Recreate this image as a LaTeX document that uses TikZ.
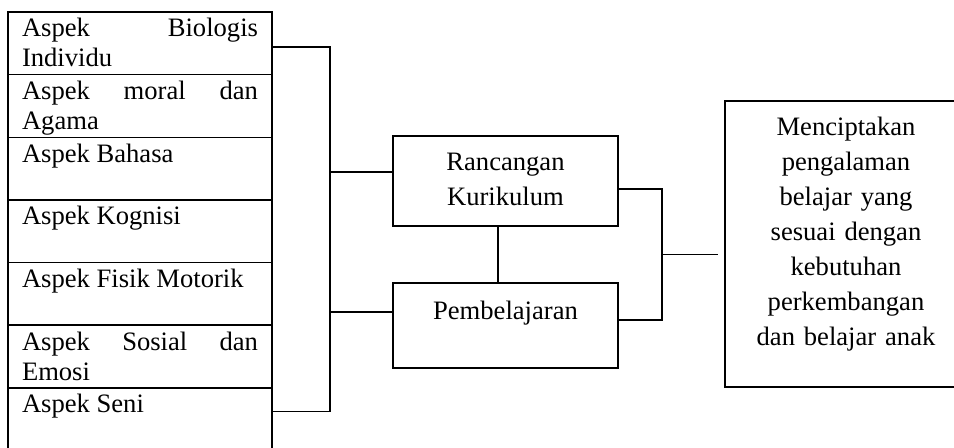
\documentclass[tikz,border=0pt]{standalone}
\usepackage{fontspec}
\setmainfont{Liberation Serif}
\usetikzlibrary{positioning}
\hyphenpenalty=10000
\exhyphenpenalty=10000
\newcommand{\isiaspek}[1]{\parbox[t]{118pt}{\baselineskip=15pt #1}}

\begin{document}
\begin{tikzpicture}[x=0.5pt,y=-0.5pt,line width=0.8pt,
    aspek/.style={draw,outer sep=0pt,inner xsep=7pt,inner ysep=0pt,
      text height=12.5pt,text depth=18.83pt,font=\fontsize{13.3}{15}\selectfont},
    kotak/.style={draw,outer sep=0pt,inner xsep=4pt,inner ysep=0pt,align=center,
      text height=17.5pt,font=\fontsize{13.3}{17.5}\selectfont}]
    \clip (0,0) rectangle (954,448);

    %aspek column
    \node[aspek,anchor=north west] (a_1) at (8,12) {\isiaspek{Aspek Biologis Individu}};
    \node[aspek] (a_2) [below =0pt of a_1] {\isiaspek{Aspek moral dan Agama}};
    \node[aspek] (a_3) [below =0pt of a_2] {\isiaspek{Aspek Bahasa}};
    \node[aspek] (a_4) [below =0pt of a_3] {\isiaspek{Aspek Kognisi}};
    \node[aspek] (a_5) [below =0pt of a_4] {\isiaspek{Aspek Fisik Motorik}};
    \node[aspek] (a_6) [below =0pt of a_5] {\isiaspek{Aspek Sosial dan Emosi}};
    \node[aspek] (a_7) [below =0pt of a_6] {\isiaspek{Aspek Seni}};

    %middle boxes
    \node[kotak,anchor=north west,text width=104.5pt,text depth=27.5pt] (rk) at (393,136) {Rancangan\\Kurikulum};
    \node[kotak,text width=104.5pt,text height=18.5pt,text depth=24pt] (pb) [below =28.5pt of rk] {Pembelajaran};

    %tujuan
    \node[kotak,anchor=north west,text width=113pt,text depth=125.5pt] (tj) at (725,101)
      {Menciptakan\\pengalaman\\belajar yang\\sesuai dengan\\kebutuhan\\perkembangan\\dan belajar anak};

    %left bus
    \draw ([yshift=-1.85pt]a_1.east) -- ++(29pt,0) coordinate (busL) |- ([yshift=3.85pt]a_7.east);
    \draw ([yshift=4.5pt]rk.west) -- ++(-31.5pt,0);
    \draw ([yshift=6.75pt]pb.west) -- ++(-31.5pt,0);

    %rk -- pb
    \draw ([xshift=-3.75pt]rk.south) -- ([xshift=-3.75pt]pb.north);

    %right bus
    \coordinate (pbR) at ([yshift=2.75pt]pb.east);
    \draw ([yshift=-4pt]rk.east) -- ++(22pt,0) coordinate (busR) |- (pbR);
    \path (busR) -- coordinate[midway] (busM) (busR |- pbR);
    \draw (busM) -- ++(28pt,0);

\end{tikzpicture}
\end{document}
